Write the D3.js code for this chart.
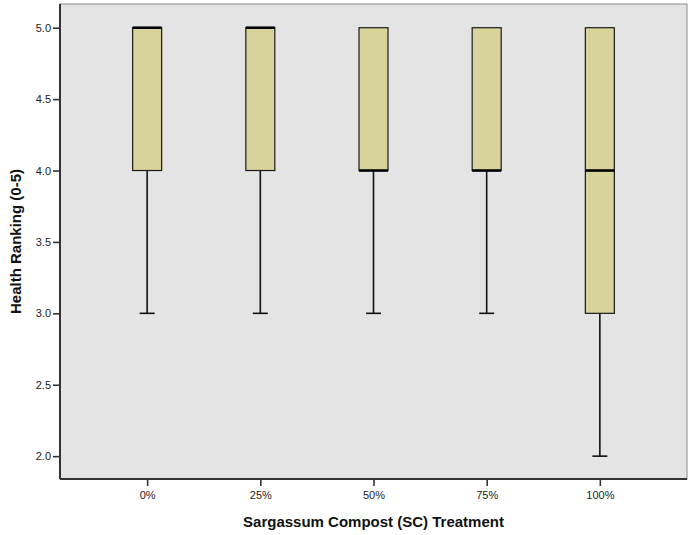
<!DOCTYPE html>
<html>
<head>
<meta charset="utf-8">
<script src="https://cdn.jsdelivr.net/npm/d3@7"></script>
<style>
  body { margin: 0; background: #fff; }
  svg { display: block; font-family: "Liberation Sans", Arial, sans-serif; }
  .tick text { font-size: 11px; fill: #222; }
</style>
</head>
<body>
<svg width="692" height="535"></svg>
<script>
var svg = d3.select("svg");

// five-number summaries
var treatments = ["0%", "25%", "50%", "75%", "100%"];
var mins    = [3, 3, 3, 3, 2];
var q1s     = [4, 4, 4, 4, 3];
var medians = [5, 5, 4, 4, 4];
var q3s     = [5, 5, 5, 5, 5];
var maxs    = [5, 5, 5, 5, 5];
var yTicks  = [2.0, 2.5, 3.0, 3.5, 4.0, 4.5, 5.0];

// plot area edges (note: "top" is taken by window.top)
var pLeft = 60, pRight = 687, pTop = 4, pBottom = 479;

var x = d3.scalePoint()
    .domain(treatments)
    .range([pLeft, pRight])
    .padding(0.77);

var y = d3.scaleLinear()
    .domain([1.84, 5.166])
    .range([pBottom, pTop]);

// plot background + thin frame
svg.append("rect")
    .attr("x", pLeft).attr("y", pTop)
    .attr("width", pRight - pLeft).attr("height", pBottom - pTop)
    .attr("fill", "#e4e4e4")
    .attr("stroke", "#8a8a8a")
    .attr("stroke-width", 1);

var boxes = treatments.map(function(t, i) {
  return {t: t, min: mins[i], q1: q1s[i], med: medians[i], q3: q3s[i], max: maxs[i]};
});

var boxW = 29, capW = 15;

var b = svg.append("g").selectAll(".box")
    .data(boxes).enter()
    .append("g")
    .attr("class", "box");

// lower whisker
b.append("line")
    .attr("x1", function(d) { return x(d.t); })
    .attr("x2", function(d) { return x(d.t); })
    .attr("y1", function(d) { return y(d.q1); })
    .attr("y2", function(d) { return y(d.min); })
    .attr("stroke", "#111").attr("stroke-width", 1.6);

b.append("line")
    .attr("x1", function(d) { return x(d.t) - capW / 2; })
    .attr("x2", function(d) { return x(d.t) + capW / 2; })
    .attr("y1", function(d) { return y(d.min); })
    .attr("y2", function(d) { return y(d.min); })
    .attr("stroke", "#111").attr("stroke-width", 1.6);

// upper whisker (zero length here but drawn anyway)
b.append("line")
    .attr("x1", function(d) { return x(d.t); })
    .attr("x2", function(d) { return x(d.t); })
    .attr("y1", function(d) { return y(d.q3); })
    .attr("y2", function(d) { return y(d.max); })
    .attr("stroke", "#111").attr("stroke-width", 1.6);

b.append("rect")
    .attr("x", function(d) { return x(d.t) - boxW / 2; })
    .attr("y", function(d) { return y(d.q3); })
    .attr("width", boxW)
    .attr("height", function(d) { return y(d.q1) - y(d.q3); })
    .attr("fill", "#d8d39a")
    .attr("stroke", "#1a1a1a")
    .attr("stroke-width", 1.2);

// median
b.append("line")
    .attr("x1", function(d) { return x(d.t) - boxW / 2; })
    .attr("x2", function(d) { return x(d.t) + boxW / 2; })
    .attr("y1", function(d) { return y(d.med); })
    .attr("y2", function(d) { return y(d.med); })
    .attr("stroke", "#000").attr("stroke-width", 2.6);

// axes
var yAxis = svg.append("g")
    .attr("transform", "translate(" + pLeft + ",0)")
    .call(d3.axisLeft(y).tickValues(yTicks).tickFormat(d3.format(".1f")).tickSize(7).tickPadding(2));

var xAxis = svg.append("g")
    .attr("transform", "translate(0," + pBottom + ")")
    .call(d3.axisBottom(x).tickSize(7).tickPadding(5));

[yAxis, xAxis].forEach(function(a) {
  a.select(".domain").attr("stroke", "#333").attr("stroke-width", 2);
  a.selectAll(".tick line").attr("stroke", "#333").attr("stroke-width", 1.6);
});
yAxis.select(".domain").attr("d", "M0," + pBottom + "V" + pTop);
xAxis.select(".domain").attr("d", "M" + pLeft + ",0H" + pRight);

// titles
svg.append("text")
    .attr("x", (pLeft + pRight) / 2)
    .attr("y", 527)
    .attr("text-anchor", "middle")
    .attr("font-size", 15)
    .attr("font-weight", "bold")
    .attr("fill", "#111")
    .text("Sargassum Compost (SC) Treatment");

svg.append("text")
    .attr("transform", "translate(21," + (pTop + pBottom) / 2 + ") rotate(-90)")
    .attr("text-anchor", "middle")
    .attr("font-size", 15)
    .attr("font-weight", "bold")
    .attr("fill", "#111")
    .text("Health Ranking (0-5)");
</script>
</body>
</html>
